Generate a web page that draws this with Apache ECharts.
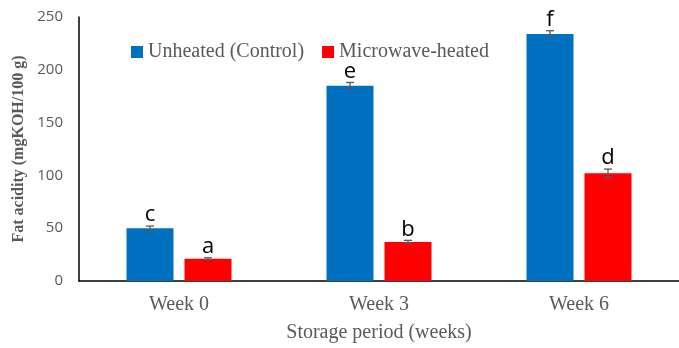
<!DOCTYPE html>
<html><head><meta charset="utf-8">
<script src="https://cdn.jsdelivr.net/npm/echarts@6/dist/echarts.min.js"></script>
<style>html,body{margin:0;padding:0;background:#fff}#c{width:679px;height:348px}</style>
</head><body><div id="c"></div>
<script>
var categories = ['Week 0', 'Week 3', 'Week 6'];
var seriesNames = ['Unheated (Control)', 'Microwave-heated'];
var unheated = [50, 185, 234];
var microwave = [21, 37, 102];
var unheatedErr = [2, 3, 3];
var microwaveErr = [1, 1.5, 4];
var unheatedLetters = ['c', 'e', 'f'];
var microwaveLetters = ['a', 'b', 'd'];
var yTicks = [0, 50, 100, 150, 200, 250];

var BAR_W = 47, GAP = 11;
var colors = ['#0070C0', '#FF0000'];

function errSeries(vals, errs, letters, sign) {
  return {
    type: 'custom',
    z: 10,
    data: vals.map(function (v, i) { return [i, v, errs[i]]; }),
    renderItem: function (params, api) {
      var i = api.value(0), v = api.value(1), e = api.value(2);
      var off = sign * (BAR_W + GAP) / 2;
      var top = api.coord([i, v + e]);
      var bot = api.coord([i, v - e]);
      var x = top[0] + off;
      var cw = 4;
      return {
        type: 'group',
        children: [
          { type: 'line', shape: { x1: x, y1: top[1], x2: x, y2: bot[1] }, style: { stroke: '#595959', lineWidth: 1.3 } },
          { type: 'line', shape: { x1: x - cw, y1: top[1], x2: x + cw, y2: top[1] }, style: { stroke: '#595959', lineWidth: 1.3 } },
          { type: 'line', shape: { x1: x - cw, y1: bot[1], x2: x + cw, y2: bot[1] }, style: { stroke: '#595959', lineWidth: 1.3 } },
          { type: 'text', style: { x: x, y: top[1], text: letters[i], textAlign: 'center', textVerticalAlign: 'bottom', fill: '#000', font: '22px "Open Sans", sans-serif' } }
        ]
      };
    }
  };
}

var chart = echarts.init(document.getElementById('c'));
chart.setOption({
  animation: false,
  grid: { left: 79, top: 17, width: 606, height: 268, containLabel: false },
  legend: {
    top: 37, left: 126,
    itemWidth: 12, itemHeight: 12, itemGap: 18,
    icon: 'rect',
    data: seriesNames,
    textStyle: { fontFamily: '"Liberation Serif", serif', fontSize: 20, color: '#595959' }
  },
  xAxis: {
    type: 'category', data: categories,
    axisLine: { lineStyle: { color: '#000', width: 1.5 } },
    axisTick: { show: false },
    axisLabel: { fontFamily: '"Liberation Serif", serif', fontSize: 20, color: '#595959', margin: 14 },
    name: 'Storage period (weeks)', nameLocation: 'middle', nameGap: 42,
    nameTextStyle: { fontFamily: '"Liberation Serif", serif', fontSize: 20, color: '#595959' }
  },
  yAxis: {
    type: 'value', min: 0, max: 250, interval: 50,
    axisLine: { show: true, lineStyle: { color: '#000', width: 1.5 } },
    axisTick: { show: false },
    splitLine: { show: false },
    axisLabel: { fontFamily: '"Open Sans", sans-serif', fontSize: 15, color: '#595959', margin: 16,
      formatter: function (v) { return yTicks.indexOf(v) >= 0 ? String(v) : ''; } },
    name: 'Fat acidity (mgKOH/100 g)', nameLocation: 'middle', nameGap: 48,
    nameTextStyle: { fontFamily: '"Liberation Serif", serif', fontSize: 16, fontWeight: 'bold', color: '#595959' }
  },
  series: [
    { name: seriesNames[0], type: 'bar', data: unheated, barWidth: BAR_W, barGap: (GAP / BAR_W * 100) + '%', itemStyle: { color: colors[0] } },
    { name: seriesNames[1], type: 'bar', data: microwave, barWidth: BAR_W, itemStyle: { color: colors[1] } },
    errSeries(unheated, unheatedErr, unheatedLetters, -1),
    errSeries(microwave, microwaveErr, microwaveLetters, 1)
  ]
});
</script></body></html>
